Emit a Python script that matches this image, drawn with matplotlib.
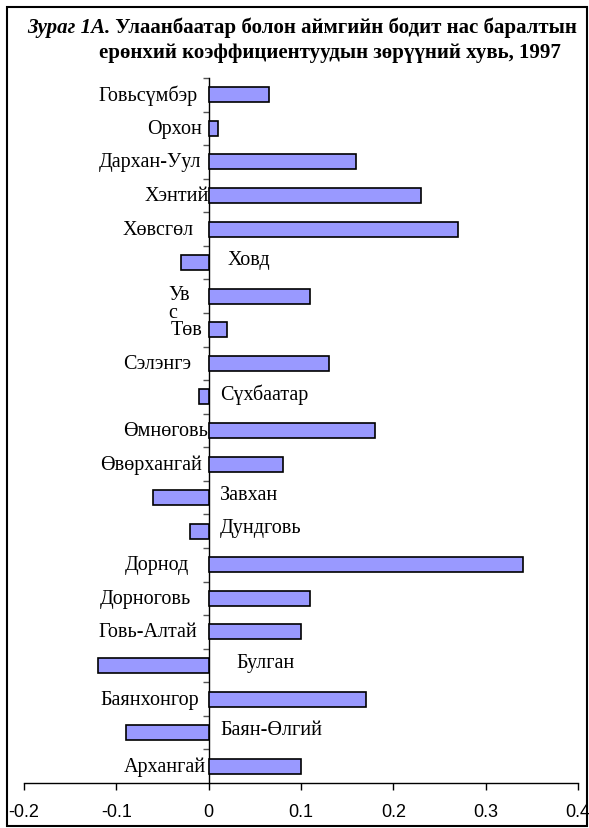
import matplotlib
matplotlib.use("Agg")
import matplotlib.pyplot as plt
from matplotlib.patches import Rectangle
from matplotlib.transforms import offset_copy
import numpy as np

# ---- data (bottom to top) ----
regions = ["Архангай", "Баян-Өлгий", "Баянхонгор", "Булган", "Говь-Алтай",
           "Дорноговь", "Дорнод", "Дундговь", "Завхан", "Өвөрхангай",
           "Өмнөговь", "Сүхбаатар", "Сэлэнгэ", "Төв", "Увс", "Ховд",
           "Хөвсгөл", "Хэнтий", "Дархан-Уул", "Орхон", "Говьсүмбэр"]
values = [0.10, -0.09, 0.17, -0.12, 0.10,
          0.11, 0.34, -0.02, -0.06, 0.08,
          0.18, -0.01, 0.13, 0.02, 0.11, -0.03,
          0.27, 0.23, 0.16, 0.01, 0.065]
xticks = [-0.2, -0.1, 0, 0.1, 0.2, 0.3, 0.4]
xticklabels = ["-0.2", "-0.1", "0", "0.1", "0.2", "0.3", "0.4"]
title_italic = "Зураг 1А."
title_line1 = " Улаанбаатар болон аймгийн бодит нас баралтын"
title_line2 = "ерөнхий коэффициентуудын зөрүүний хувь, 1997"

# label gap from zero axis in pixels (style only)
label_gap = {"Архангай": 3, "Баян-Өлгий": 12, "Баянхонгор": 10, "Булган": 28,
             "Говь-Алтай": 11, "Дорноговь": 18, "Дорнод": 20, "Дундговь": 11,
             "Завхан": 11, "Өвөрхангай": 7, "Өмнөговь": 1, "Сүхбаатар": 11,
             "Сэлэнгэ": 18, "Төв": 6, "Увс": 19, "Ховд": 19, "Хөвсгөл": 15,
             "Хэнтий": 0, "Дархан-Уул": 7, "Орхон": 7, "Говьсүмбэр": 11}

W, H = 589, 829
fig = plt.figure(figsize=(W / 100, H / 100), dpi=100)
ax = fig.add_axes([24 / W, 1 - 784 / H, (578 - 24) / W, (784 - 79) / H])

serif = "Liberation Serif"
sans = "Liberation Sans"
lab_fs = 14.5

y = np.arange(len(regions))
ax.barh(y, values, height=0.45, color="#9999FF", edgecolor="black",
        linewidth=1.2, zorder=3)

ax.set_xlim(-0.2, 0.4)
ax.set_ylim(-0.5, len(regions) - 0.5)
ax.set_xticks(xticks)
ax.set_xticklabels(xticklabels, fontfamily=sans, fontsize=13)
ax.tick_params(axis="x", direction="out", length=5, width=1, pad=9.5,
               color="black")

for s in ["top", "right"]:
    ax.spines[s].set_visible(False)
ax.spines["left"].set_position(("data", 0))
ax.spines["left"].set_linewidth(1)
ax.spines["bottom"].set_linewidth(1)
ax.set_yticks(np.arange(len(regions)) + 0.5)
ax.set_yticklabels([])
ax.tick_params(axis="y", direction="out", length=4, width=1, color="#555555")

for i, (name, v) in enumerate(zip(regions, values)):
    gap = label_gap[name]
    if v >= 0:
        tr = offset_copy(ax.transData, fig=fig, x=-gap, y=0, units="dots")
        if name == "Увс":
            ax.text(0, i + 0.33, "Ув\nс", transform=tr, ha="right", va="top",
                    multialignment="left", fontfamily=serif, fontsize=lab_fs,
                    linespacing=0.95)
        else:
            ax.text(0, i, name, transform=tr, ha="right", va="center",
                    fontfamily=serif, fontsize=lab_fs)
    else:
        tr = offset_copy(ax.transData, fig=fig, x=gap, y=0, units="dots")
        ax.text(0, i + 0.1, name, transform=tr, ha="left", va="center",
                fontfamily=serif, fontsize=lab_fs)

# title
tfs = 15
t1 = fig.text(27 / W, 1 - 33 / H, title_italic, fontfamily=serif,
              fontsize=tfs, fontweight="bold", fontstyle="italic",
              ha="left", va="baseline")
fig.canvas.draw()
bb = t1.get_window_extent()
fig.text(bb.x1 / W, 1 - 33 / H, title_line1, fontfamily=serif, fontsize=tfs,
         fontweight="bold", ha="left", va="baseline")
fig.text(99 / W, 1 - 58 / H, title_line2, fontfamily=serif, fontsize=tfs,
         fontweight="bold", ha="left", va="baseline")

# outer frame
fig.patches.append(Rectangle((7 / W, 1 - 827 / H), (587 - 7) / W, (827 - 8) / H,
                             transform=fig.transFigure, fill=False,
                             edgecolor="black", linewidth=1.5))

fig.savefig("out.png", dpi=100)
